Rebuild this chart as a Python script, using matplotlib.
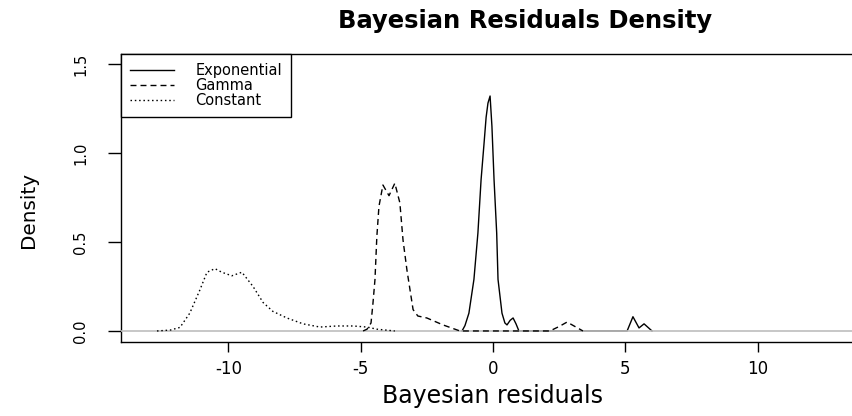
import matplotlib
matplotlib.use('Agg')
import matplotlib.pyplot as plt

# density curves
exp_x = [-1.17, -1.06, -0.91, -0.72, -0.57, -0.45, -0.34, -0.26, -0.19, -0.11,
         -0.04, 0.04, 0.14, 0.19, 0.34, 0.45, 0.53, 0.65, 0.76, 0.87, 0.98,
         5.07, 5.29, 5.52, 5.71, 6.01]
exp_y = [0, 0.03, 0.10, 0.29, 0.55, 0.85, 1.05, 1.20, 1.28, 1.32,
         1.15, 0.85, 0.55, 0.29, 0.10, 0.045, 0.034, 0.06, 0.073, 0.04, 0,
         0, 0.08, 0.017, 0.04, 0]

gam_x = [-4.91, -4.76, -4.61, -4.54, -4.46, -4.39, -4.31, -4.16, -3.93, -3.71,
         -3.52, -3.40, -3.25, -3.02, -2.84, -2.50, -1.89, -1.25, 2.15, 2.50,
         2.80, 3.10, 3.40]
gam_y = [0, 0.01, 0.045, 0.15, 0.29, 0.53, 0.70, 0.82, 0.76, 0.83,
         0.72, 0.51, 0.34, 0.12, 0.084, 0.073, 0.034, 0, 0, 0.025,
         0.05, 0.025, 0]

const_x = [-12.70, -12.20, -11.83, -11.46, -11.08, -10.81, -10.51, -10.25, -9.87,
           -9.49, -9.07, -8.69, -8.32, -7.79, -7.18, -6.54, -5.90, -5.29,
           -4.76, -4.39, -3.71]
const_y = [0, 0.005, 0.02, 0.10, 0.23, 0.33, 0.35, 0.33, 0.31,
           0.33, 0.25, 0.16, 0.11, 0.073, 0.04, 0.022, 0.028, 0.028,
           0.022, 0.01, 0]

labels = ["Exponential", "Gamma", "Constant"]
xticks = [-10, -5, 0, 5, 10]
yticks = [0.0, 0.5, 1.0, 1.5]

W, H = 853, 416
fig = plt.figure(figsize=(W / 100, H / 100), dpi=100)
# right side of the box runs past the edge of the picture
ax = fig.add_axes([121 / W, (H - 342) / H, (929 - 121) / W, (342 - 54) / H])

ax.plot(exp_x, exp_y, color="black", lw=1.0, zorder=2, label=labels[0])
ax.axhline(0, color="#bebebe", lw=1.2, zorder=3)
ax.plot(gam_x, gam_y, color="black", lw=1.0, dashes=(4.3, 2.9), zorder=4, label=labels[1])
ax.plot(const_x, const_y, color="black", lw=1.0, dashes=(1.1, 2.0), zorder=4, label=labels[2])

ax.set_xlim(-14.06, 16.48)
ax.set_ylim(-0.062, 1.556)

ax.set_xticks(xticks)
ax.set_xticklabels([str(t) for t in xticks])
ax.set_yticks(yticks)
ax.set_yticklabels(["%.1f" % t for t in yticks], rotation=90, va="center")
ax.tick_params(axis="x", length=7.2, width=1, pad=6, labelsize=12, colors="black")
ax.tick_params(axis="y", length=9.4, width=1, pad=14, labelsize=10.5, colors="black")

for s in ax.spines.values():
    s.set_linewidth(1.0)
    s.set_color("black")

ax.set_title("Bayesian Residuals Density", fontsize=17.5, fontweight="bold", pad=18.5)
fig.text(493 / W, (H - 403) / H, "Bayesian residuals", fontsize=17,
         ha="center", va="baseline")
fig.text(28 / W, 1 - 210 / H, "Density", fontsize=14.4, rotation=90,
         ha="center", va="center")

leg = ax.legend(loc="upper left", bbox_to_anchor=(0, 1), borderaxespad=0,
                fontsize=10.5, frameon=True, fancybox=False, framealpha=1,
                borderpad=0.6, handlelength=3.0, handletextpad=1.5,
                labelspacing=0.0)
leg.get_frame().set_edgecolor("black")
leg.get_frame().set_linewidth(1.0)
leg.set_zorder(5)

fig.savefig("out.png", dpi=100)
